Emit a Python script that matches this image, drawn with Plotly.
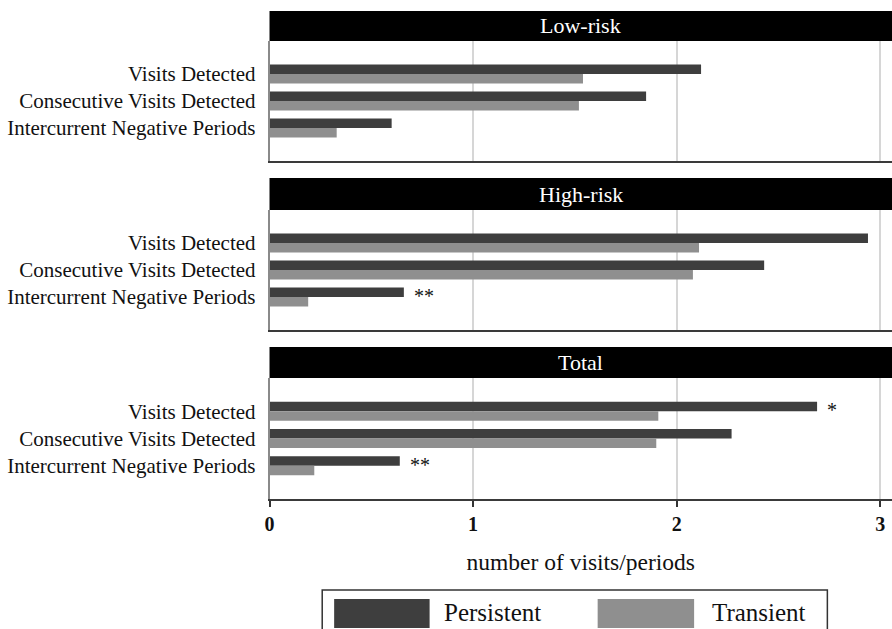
import plotly.graph_objects as go

# ---------------- data ----------------
categories = ["Visits Detected", "Consecutive Visits Detected", "Intercurrent Negative Periods"]
panels = ["Low-risk", "High-risk", "Total"]

persistent_low = [2.12, 1.85, 0.60]
transient_low = [1.54, 1.52, 0.33]
persistent_high = [2.94, 2.43, 0.66]
transient_high = [2.11, 2.08, 0.19]
persistent_total = [2.69, 2.27, 0.64]
transient_total = [1.91, 1.90, 0.22]

significance_low = ["", "", ""]
significance_high = ["", "", "**"]
significance_total = ["*", "", "**"]

series_names = ["Persistent", "Transient"]
x_ticks = [0, 1, 2, 3]
x_title = "number of visits/periods"

persistent = [persistent_low, persistent_high, persistent_total]
transient = [transient_low, transient_high, transient_total]
significance = [significance_low, significance_high, significance_total]

# ---------------- style ----------------
W, H = 892, 629
DARK = "#3e3e3e"
LIGHT = "#8f8f8f"
SERIF = "Liberation Serif, Times New Roman, serif"
TXT = "#111111"

X_LEFT = 266
# (header_top, plot_top, plot_bottom) in pixels from top
panel_px = [(11, 41, 161), (178, 210, 330), (347, 378, 499)]


def py(y):
    return 1 - y / H


fig = go.Figure()
layout = dict(
    width=W, height=H, margin=dict(l=0, r=0, t=0, b=0),
    paper_bgcolor="white", plot_bgcolor="white",
    barmode="group", bargap=0.30, bargroupgap=0.0,
    showlegend=False, font=dict(family=SERIF, color=TXT),
)
shapes = []
annotations = []

x_dom = [X_LEFT / W, 1.0]
for i, name in enumerate(panels):
    n = "" if i == 0 else str(i + 1)
    xa, ya = "x" + n, "y" + n
    fig.add_trace(go.Bar(y=categories, x=persistent[i], orientation="h", name=series_names[0],
                         marker=dict(color=DARK, line=dict(width=0)), xaxis=xa, yaxis=ya))
    fig.add_trace(go.Bar(y=categories, x=transient[i], orientation="h", name=series_names[1],
                         marker=dict(color=LIGHT, line=dict(width=0)), xaxis=xa, yaxis=ya))
    htop, ptop, pbot = panel_px[i]
    last = i == len(panels) - 1
    layout["xaxis" + n] = dict(
        domain=x_dom, anchor=ya, range=[0, 3.058], tickvals=x_ticks,
        showgrid=True, gridcolor="#d6d6d6", gridwidth=1.5, zeroline=False,
        showline=True, linecolor="#3a3a3a", linewidth=2,
        ticks="outside" if last else "", ticklen=6, tickcolor="#333", tickwidth=1.5,
        showticklabels=last,
        tickfont=dict(family=SERIF, size=20, color=TXT, weight="bold"),
        title=dict(text=x_title, font=dict(family=SERIF, size=23.5, color=TXT), standoff=20) if last else None,
    )
    layout["yaxis" + n] = dict(
        domain=[py(pbot), py(ptop)], anchor=xa, type="category",
        categoryorder="array", categoryarray=categories,
        range=[3.222, -1.222], showgrid=False, zeroline=False,
        showline=True, linecolor="#8a8a8a", linewidth=1.5,
        ticks="", ticklabelstandoff=8,
        tickfont=dict(family=SERIF, size=21, color=TXT),
    )
    # black header strip
    shapes.append(dict(type="rect", xref="paper", yref="paper", x0=X_LEFT / W, x1=1.0,
                       y0=py(ptop), y1=py(htop), fillcolor="black", line=dict(width=0), layer="above"))
    annotations.append(dict(text=name, xref="paper", yref="paper", x=(X_LEFT / W + 1) / 2,
                            y=py((htop + ptop) / 2), xanchor="center", yanchor="middle", showarrow=False,
                            font=dict(family=SERIF, size=22, color="white")))
    # significance marks
    for cat, val, sig in zip(categories, persistent[i], significance[i]):
        if sig:
            annotations.append(dict(text=sig, x=val, y=cat, xref=xa, yref=ya, xanchor="left",
                                    yanchor="middle", xshift=8, yshift=1, showarrow=False,
                                    font=dict(family=SERIF, size=20, color=TXT)))

# legend drawn as a boxed key
shapes.append(dict(type="rect", xref="paper", yref="paper", x0=319 / W, x1=827 / W,
                   y0=py(640), y1=py(590), line=dict(color="#333", width=1.5), fillcolor="rgba(0,0,0,0)"))
for color, x0, x1, tx, label in [(DARK, 331, 427, 439, series_names[0]), (LIGHT, 596, 693, 709, series_names[1])]:
    shapes.append(dict(type="rect", xref="paper", yref="paper", x0=x0 / W, x1=x1 / W,
                       y0=py(628), y1=py(599), fillcolor=color, line=dict(width=0)))
    annotations.append(dict(text=label, xref="paper", yref="paper", x=tx / W, y=py(612),
                            xanchor="left", yanchor="middle", showarrow=False,
                            font=dict(family=SERIF, size=25, color=TXT)))

layout["shapes"] = shapes
layout["annotations"] = annotations
fig.update_layout(**layout)
fig.write_html("out.html", config={"displayModeBar": False},
               post_script="document.body.style.margin='0';document.body.style.overflow='hidden';")
